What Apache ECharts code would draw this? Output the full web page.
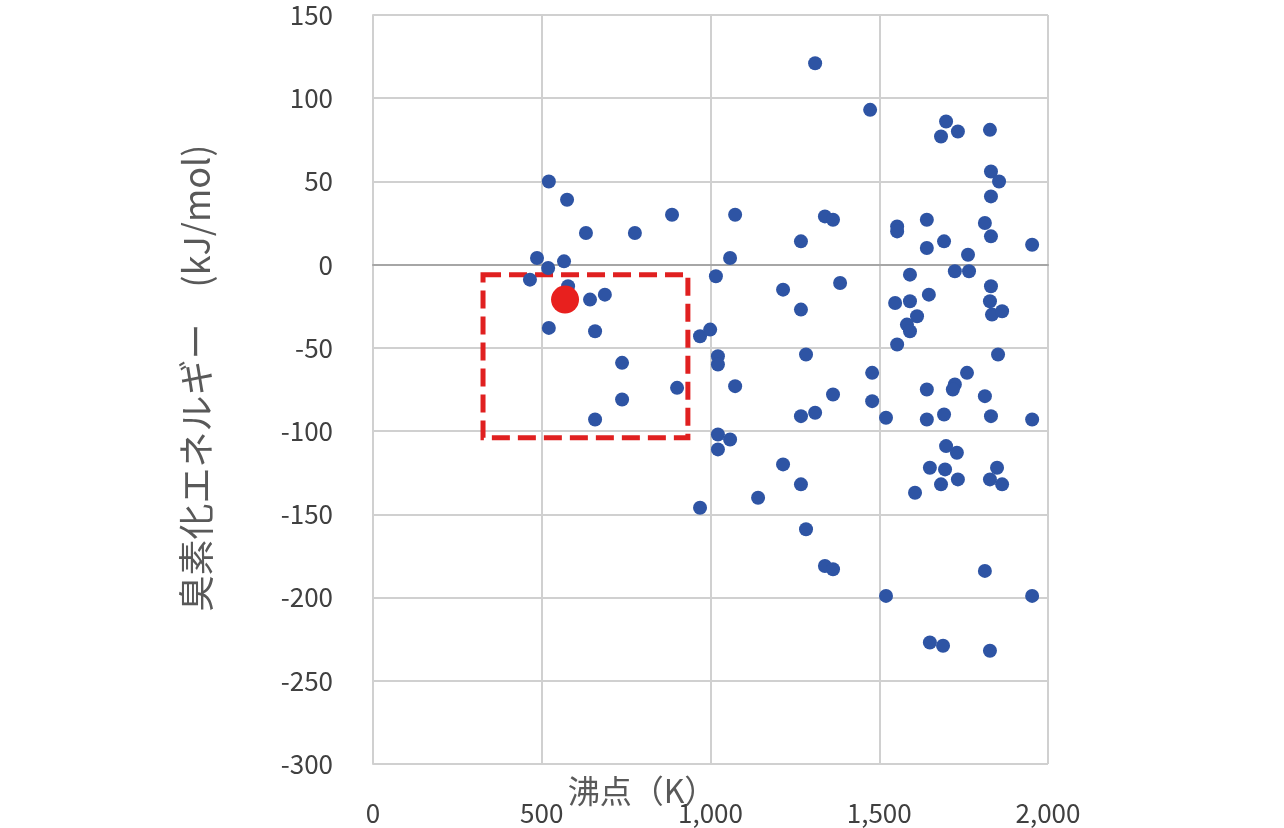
<!DOCTYPE html>
<html><head><meta charset="utf-8">
<script src="https://cdn.jsdelivr.net/npm/echarts@6/dist/echarts.min.js"></script>
<style>html,body{margin:0;padding:0;background:#fff}#c{width:1284px;height:828px}</style>
</head><body><div id="c"></div>
<script>
const xTicks = [0, 500, 1000, 1500, 2000];
const yTicks = [-300, -250, -200, -150, -100, -50, 0, 50, 100, 150];
const boilingPointK = [465,486,521,519,521,566,575,578,631,643,658,687,738,738,776,886,901,658,969,999,1016,1022,1022,1022,1022,1058,1058,1073,1073,969,1141,1215,1215,1268,1268,1268,1268,1283,1283,1310,1310,1339,1339,1363,1363,1363,1384,1473,1479,1479,1520,1520,1547,1553,1553,1553,1591,1591,1612,1582,1591,1698,1683,1733,1828,1831,1855,1831,1641,1813,1831,1953,1692,1641,1763,1724,1766,1647,1831,1828,1834,1864,1852,1760,1724,1718,1641,1813,1641,1692,1831,1953,1698,1730,1650,1695,1849,1828,1864,1733,1683,1606,1813,1953,1650,1689,1828];
const brominationEnergy = [-9,4,50,-2,-38,2,39,-13,19,-21,-40,-18,-59,-81,19,30,-74,-93,-43,-39,-7,-55,-60,-111,-102,4,-105,30,-73,-146,-140,-15,-120,14,-27,-91,-132,-54,-159,121,-89,29,-181,27,-183,-78,-11,93,-65,-82,-92,-199,-23,23,20,-48,-6,-22,-31,-36,-40,86,77,80,81,56,50,41,27,25,17,12,14,10,6,-4,-4,-18,-13,-22,-30,-28,-54,-65,-72,-75,-75,-79,-93,-90,-91,-93,-109,-113,-122,-123,-122,-129,-132,-129,-132,-137,-184,-199,-227,-229,-232];
const highlightPoint = [569, -21];
const highlightBox = [[326, -6], [933, -104]];
const xName = '沸点（K）';
const yName = '臭素化エネルギー　(kJ/mol)';

const pts = boilingPointK.map((x, i) => [x, brominationEnergy[i]]);
const font = '"Noto Sans CJK JP", "Noto Sans", sans-serif';
const chart = echarts.init(document.getElementById('c'));
chart.setOption({
  animation: false,
  grid: { left: 373, right: 236, top: 15, bottom: 64 },
  xAxis: {
    type: 'value', min: 0, max: 2000, interval: 500,
    axisLine: { show: true, onZero: true, lineStyle: { color: '#a6a6a6', width: 2 } },
    axisTick: { show: false },
    axisLabel: { margin: 36, fontSize: 26, color: '#404040', fontFamily: font,
      formatter: v => v.toLocaleString('en-US') },
    splitLine: { show: true, lineStyle: { color: '#d0d0d0', width: 2 } }
  },
  yAxis: {
    type: 'value', min: -300, max: 150, interval: 50,
    axisLine: { show: true, onZero: false, lineStyle: { color: '#d0d0d0', width: 2 } }, axisTick: { show: false },
    axisLabel: { margin: 40, fontSize: 26, color: '#404040', fontFamily: font },
    splitLine: { show: true, lineStyle: { color: '#d0d0d0', width: 2 } }
  },
  graphic: [
    { type: 'text', left: 'center', top: 775, style: { text: xName, font: '32px ' + font, fill: '#595959' } },
    { type: 'text', x: 196, y: 378, rotation: Math.PI / 2,
      style: { text: yName, font: '36px ' + font, fill: '#595959', align: 'center', verticalAlign: 'middle' } }
  ],
  series: [
    { type: 'scatter', data: pts, symbolSize: 14, itemStyle: { color: '#2e54a4', opacity: 1 },
      markArea: { silent: true, itemStyle: { color: 'rgba(0,0,0,0)', borderColor: '#e02020', borderWidth: 5, borderType: [18, 8] },
        data: [[{ coord: highlightBox[0] }, { coord: highlightBox[1] }]] } },
    { type: 'scatter', data: [highlightPoint], symbolSize: 28, itemStyle: { color: '#e8201e', opacity: 1 }, z: 5 }
  ]
});
</script></body></html>
